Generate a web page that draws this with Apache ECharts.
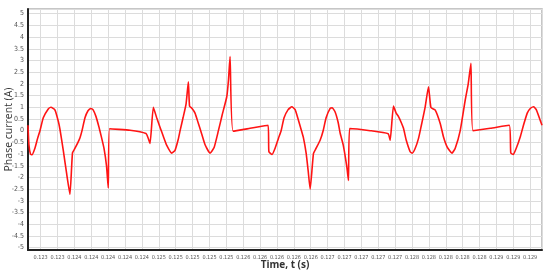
<!DOCTYPE html>
<html>
<head>
<meta charset="utf-8">
<script src="https://cdn.jsdelivr.net/npm/echarts@6/dist/echarts.min.js"></script>
<style>
  html, body { margin: 0; padding: 0; background: #fff; }
  #chart { width: 550px; height: 276px; }
</style>
</head>
<body>
<div id="chart"></div>
<script>
// time (s)
const timeS = [
  0.12305, 0.123061, 0.123079, 0.123097, 0.123132, 0.123162, 0.123192, 0.123231,
  0.12329, 0.123322, 0.12337, 0.123409, 0.123429, 0.123468, 0.123508, 0.123547,
  0.123577, 0.123607, 0.123642, 0.123666, 0.12369, 0.123725, 0.123761, 0.123793,
  0.12382, 0.123856, 0.123891, 0.123915, 0.12395, 0.12398, 0.124001,
  0.124016, 0.124259, 0.124448, 0.124472, 0.124496, 0.124535, 0.124575, 0.124614,
  0.124654, 0.124694, 0.124753, 0.124792, 0.124828, 0.124852, 0.124887, 0.124923,
  0.12495, 0.124964, 0.124994, 0.125029, 0.125065, 0.125109, 0.125148, 0.125207,
  0.125255, 0.125306, 0.125349, 0.125405, 0.125426, 0.125444, 0.12548,
  0.125681, 0.125895, 0.125904, 0.125942, 0.125978, 0.126017, 0.126049, 0.126084,
  0.126132, 0.126176, 0.126215, 0.12625, 0.126286, 0.126313, 0.126345, 0.126369,
  0.126393, 0.126432, 0.126464, 0.126511, 0.126547, 0.126582, 0.12663, 0.126654,
  0.126689, 0.126725, 0.126748, 0.126784, 0.126828, 0.126847,
  0.126861, 0.127104, 0.127317, 0.127341, 0.12738, 0.127412, 0.12744, 0.127472,
  0.127499, 0.127531, 0.127578, 0.127602, 0.127638, 0.127677, 0.127709, 0.127756,
  0.127795, 0.127824, 0.127875, 0.127934, 0.127973, 0.128017, 0.128073, 0.128112,
  0.128171, 0.12823, 0.128266, 0.128298, 0.128322, 0.128527, 0.128752,
  0.12877, 0.128799, 0.128835, 0.128882, 0.128918, 0.128965, 0.129001, 0.12904,
  0.129072, 0.129108, 0.12914
];

// phase current (A)
const currentA = [
  0.23, -0.6, -1.0, -1.03, -0.75, -0.35, 0.0, 0.55,
  0.93, 1.0, 0.88, 0.4, 0.05, -0.84, -1.84, -2.72,
  -0.95, -0.75, -0.5, -0.3, 0.0, 0.55, 0.85, 0.95,
  0.9, 0.6, 0.15, -0.2, -0.75, -1.5, -2.45,
  0.08, 0.02, -0.12, -0.3, -0.55, 1.0, 0.55, 0.15,
  -0.25, -0.63, -0.96, -0.84, -0.4, 0.0, 0.55, 1.15,
  2.09, 1.05, 0.95, 0.75, 0.35, -0.15, -0.6, -0.96,
  -0.72, 0.0, 0.65, 1.45, 2.2, 3.17, -0.02,
  0.1, 0.23, -0.9, -1.02, -0.75, -0.33, 0.0, 0.55,
  0.9, 1.02, 0.9, 0.5, 0.05, -0.3, -0.95, -1.7,
  -2.5, -0.98, -0.75, -0.41, 0.0, 0.55, 0.95, 0.98,
  0.8, 0.35, -0.1, -0.6, -1.56, -2.13,
  0.09, 0.0, -0.13, -0.41, 1.05, 0.75, 0.6, 0.35,
  0.1, -0.4, -0.9, -0.96, -0.75, -0.33, 0.2, 1.02,
  1.88, 0.99, 0.88, 0.31, -0.27, -0.7, -0.96, -0.75,
  0.0, 1.3, 2.0, 2.88, 0.0, 0.1, 0.23,
  -0.95, -1.02, -0.75, -0.27, 0.2, 0.75, 0.95, 1.02,
  0.9, 0.55, 0.23
];

const xMin = 0.12305, xMax = 0.12914;
const yMin = -5.1, yMax = 5.2;

const chart = echarts.init(document.getElementById('chart'));

const tickFont = '"DejaVu Sans Condensed", "Liberation Sans Narrow", Arial, sans-serif';
const nameFont = '"Open Sans", "Noto Sans", Arial, sans-serif';

chart.setOption({
  backgroundColor: '#fff',
  animation: false,
  grid: {
    left: 28, right: 8, top: 9, bottom: 26,
    outerBoundsMode: 'none',
    containLabel: false,
    show: true,
    borderColor: '#b4b4b4',
    borderWidth: 1.5,
    backgroundColor: '#fff'
  },
  xAxis: {
    type: 'value',
    min: xMin,
    max: xMax,
    splitNumber: 30,
    name: 'Time, t (s)',
    nameLocation: 'middle',
    nameGap: 10,
    nameMoveOverlap: false,
    nameTextStyle: { fontFamily: nameFont, fontSize: 10, fontWeight: 'bold', color: '#333' },
    axisLine: { onZero: false, lineStyle: { color: '#222', width: 2 } },
    axisTick: { show: false },
    axisLabel: {
      fontFamily: tickFont, fontSize: 5.5, color: '#555', margin: 5,
      showMinLabel: false, showMaxLabel: false,
      formatter: v => v.toFixed(3)
    },
    splitLine: { show: true, lineStyle: { color: '#dcdcdc', width: 1 } }
  },
  yAxis: {
    type: 'value',
    min: yMin,
    max: yMax,
    splitNumber: 20,
    name: 'Phase current (A)',
    nameLocation: 'middle',
    nameGap: 13,
    nameMoveOverlap: false,
    nameTextStyle: { fontFamily: nameFont, fontSize: 10.5, color: '#333' },
    axisLine: { show: true, lineStyle: { color: '#222', width: 2 } },
    axisTick: { show: false },
    axisLabel: {
      fontFamily: tickFont, fontSize: 7, color: '#555', margin: 4,
      showMinLabel: false, showMaxLabel: false
    },
    splitLine: { show: true, lineStyle: { color: '#dcdcdc', width: 1 } }
  },
  series: [{
    type: 'line',
    data: timeS.map((t, i) => [t, currentA[i]]),
    showSymbol: false,
    smooth: 0.15,
    lineStyle: { color: '#ff1414', width: 1.6 }
  }]
});
</script>
</body>
</html>
